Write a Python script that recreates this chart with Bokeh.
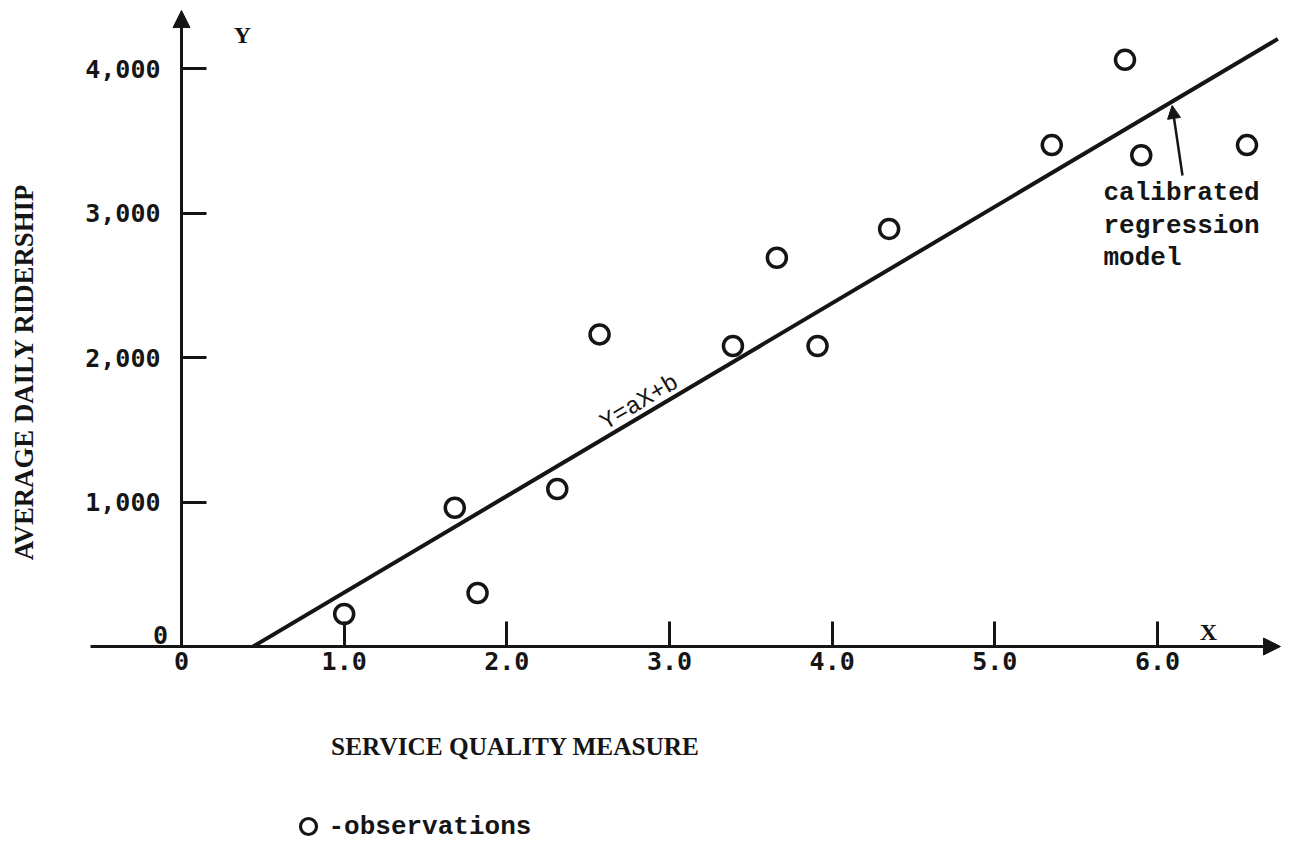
import math
from bokeh.plotting import figure
from bokeh.models import Range1d, FixedTicker, Arrow, NormalHead, PrintfTickFormatter, NumeralTickFormatter
from bokeh.core.properties import value
from bokeh.embed import file_html
from bokeh.resources import INLINE

INK = "#151515"

# ---- data ----
obs_x = [1.0, 1.68, 1.82, 2.31, 2.57, 3.39, 3.66, 3.91, 4.35, 5.35, 5.80, 5.90, 6.55]
obs_y = [225, 960, 370, 1090, 2160, 2080, 2690, 2080, 2890, 3470, 4060, 3400, 3470]

# calibrated regression line, Y = aX + b, as drawn (end points)
line_x = [0.44, 6.74]
line_y = [0, 4205]

x_ticks = [0, 1, 2, 3, 4, 5, 6]
x_tick_labels = ["0", "1.0", "2.0", "3.0", "4.0", "5.0", "6.0"]
y_ticks = [1000, 2000, 3000, 4000]
y_tick_labels = ["1,000", "2,000", "3,000", "4,000"]

x_title = "SERVICE QUALITY MEASURE"
y_title = "AVERAGE DAILY RIDERSHIP"
model_label = ["calibrated", "regression", "model"]

# ---- figure ----
p = figure(width=1284, height=842,
           x_range=Range1d(-1.1127, 6.7806), y_range=Range1d(-1356.4, 4470.6),
           output_backend="svg", toolbar_location=None, title=None)
p.min_border = 0
p.min_border_left = 0
p.min_border_right = 0
p.min_border_top = 0
p.min_border_bottom = 0
p.outline_line_color = None
p.background_fill_color = "white"
p.border_fill_color = "white"
p.grid.visible = False

p.xaxis.fixed_location = 0
p.yaxis.fixed_location = 0
p.xaxis.ticker = FixedTicker(ticks=x_ticks)
p.yaxis.ticker = FixedTicker(ticks=y_ticks)
p.xaxis.formatter = PrintfTickFormatter(format="%.1f")
p.yaxis.formatter = NumeralTickFormatter(format="0,0")
p.xaxis.major_label_overrides = {t: l for t, l in zip(x_ticks, x_tick_labels)}
p.yaxis.major_label_overrides = {t: l for t, l in zip(y_ticks, y_tick_labels)}
for ax in (p.xaxis, p.yaxis):
    ax.axis_line_color = None
    ax.major_tick_line_color = INK
    ax.major_tick_line_width = 3
    ax.major_tick_in = 25
    ax.major_tick_out = 0
    ax.minor_tick_line_color = None
    ax.major_label_text_font = "DejaVu Sans Mono"
    ax.major_label_text_font_size = "25px"
    ax.major_label_text_font_style = "bold"
    ax.major_label_text_color = INK
p.xaxis.major_label_standoff = 5
p.yaxis.major_label_standoff = 21

# axis arrows
x_axis_from, x_axis_to = -0.5594, 6.756
y_axis_to = 4401
p.add_layout(Arrow(end=NormalHead(size=17, fill_color=INK, line_color=INK, line_width=1),
                   x_start=x_axis_from, y_start=0, x_end=x_axis_to, y_end=0,
                   line_color=INK, line_width=3))
p.add_layout(Arrow(end=NormalHead(size=17, fill_color=INK, line_color=INK, line_width=1),
                   x_start=0, y_start=0, x_end=0, y_end=y_axis_to,
                   line_color=INK, line_width=3))

# regression line and observations
p.line(line_x, line_y, line_color=INK, line_width=4)
p.scatter(obs_x, obs_y, marker="circle", size=19, fill_color=None,
          line_color=INK, line_width=3.5)

# label along the line
p.text(x=[2.8155], y=[1688.6], text=["Y=aX+b"], angle=0.5351,
       text_align="center", text_baseline="middle",
       text_font=value("Liberation Mono"), text_font_size="24px", text_color=INK)

# annotation arrow and text
p.add_layout(Arrow(end=NormalHead(size=13, fill_color=INK, line_color=INK, line_width=1),
                   x_start=6.1535, y_start=3259.5, x_end=6.0898, y_end=3744,
                   line_color=INK, line_width=2.5))
p.text(x=[5.668] * 3, y=[3135, 2913.5, 2692], text=model_label,
       text_align="left", text_baseline="alphabetic",
       text_font=value("Liberation Mono"), text_font_size="26px",
       text_font_style="bold", text_color=INK)

# axis letters and origin
p.text(x=[0.375], y=[4228.4], text=["Y"], text_align="center", text_baseline="middle",
       text_font=value("Liberation Serif"), text_font_size="24px",
       text_font_style="bold", text_color=INK)
p.text(x=[6.3134], y=[96.9], text=["X"], text_align="center", text_baseline="middle",
       text_font=value("Liberation Serif"), text_font_size="24px",
       text_font_style="bold", text_color=INK)
p.text(x=[-0.1291], y=[83], text=["0"], text_align="center", text_baseline="middle",
       text_font=value("DejaVu Sans Mono"), text_font_size="25px",
       text_font_style="bold", text_color=INK)

# axis titles
p.text(x=[2.053], y=[-692], text=[x_title], text_align="center", text_baseline="middle",
       text_font=value("Liberation Serif"), text_font_size="25.3px",
       text_font_style="bold", text_color=INK)
p.text(x=[-0.9713], y=[1899.7], text=[y_title], angle=math.pi / 2,
       text_align="center", text_baseline="middle",
       text_font=value("Liberation Serif"), text_font_size="26.8px",
       text_font_style="bold", text_color=INK)

# key
p.scatter([0.7807], [-1245.7], marker="circle", size=16, fill_color=None,
          line_color=INK, line_width=3.2)
p.text(x=[0.9037], y=[-1245.7], text=["-observations"], text_align="left", text_baseline="middle",
       text_font=value("Liberation Mono"), text_font_size="26px",
       text_font_style="bold", text_color=INK)

open("out.html", "w").write(file_html(p, INLINE))
